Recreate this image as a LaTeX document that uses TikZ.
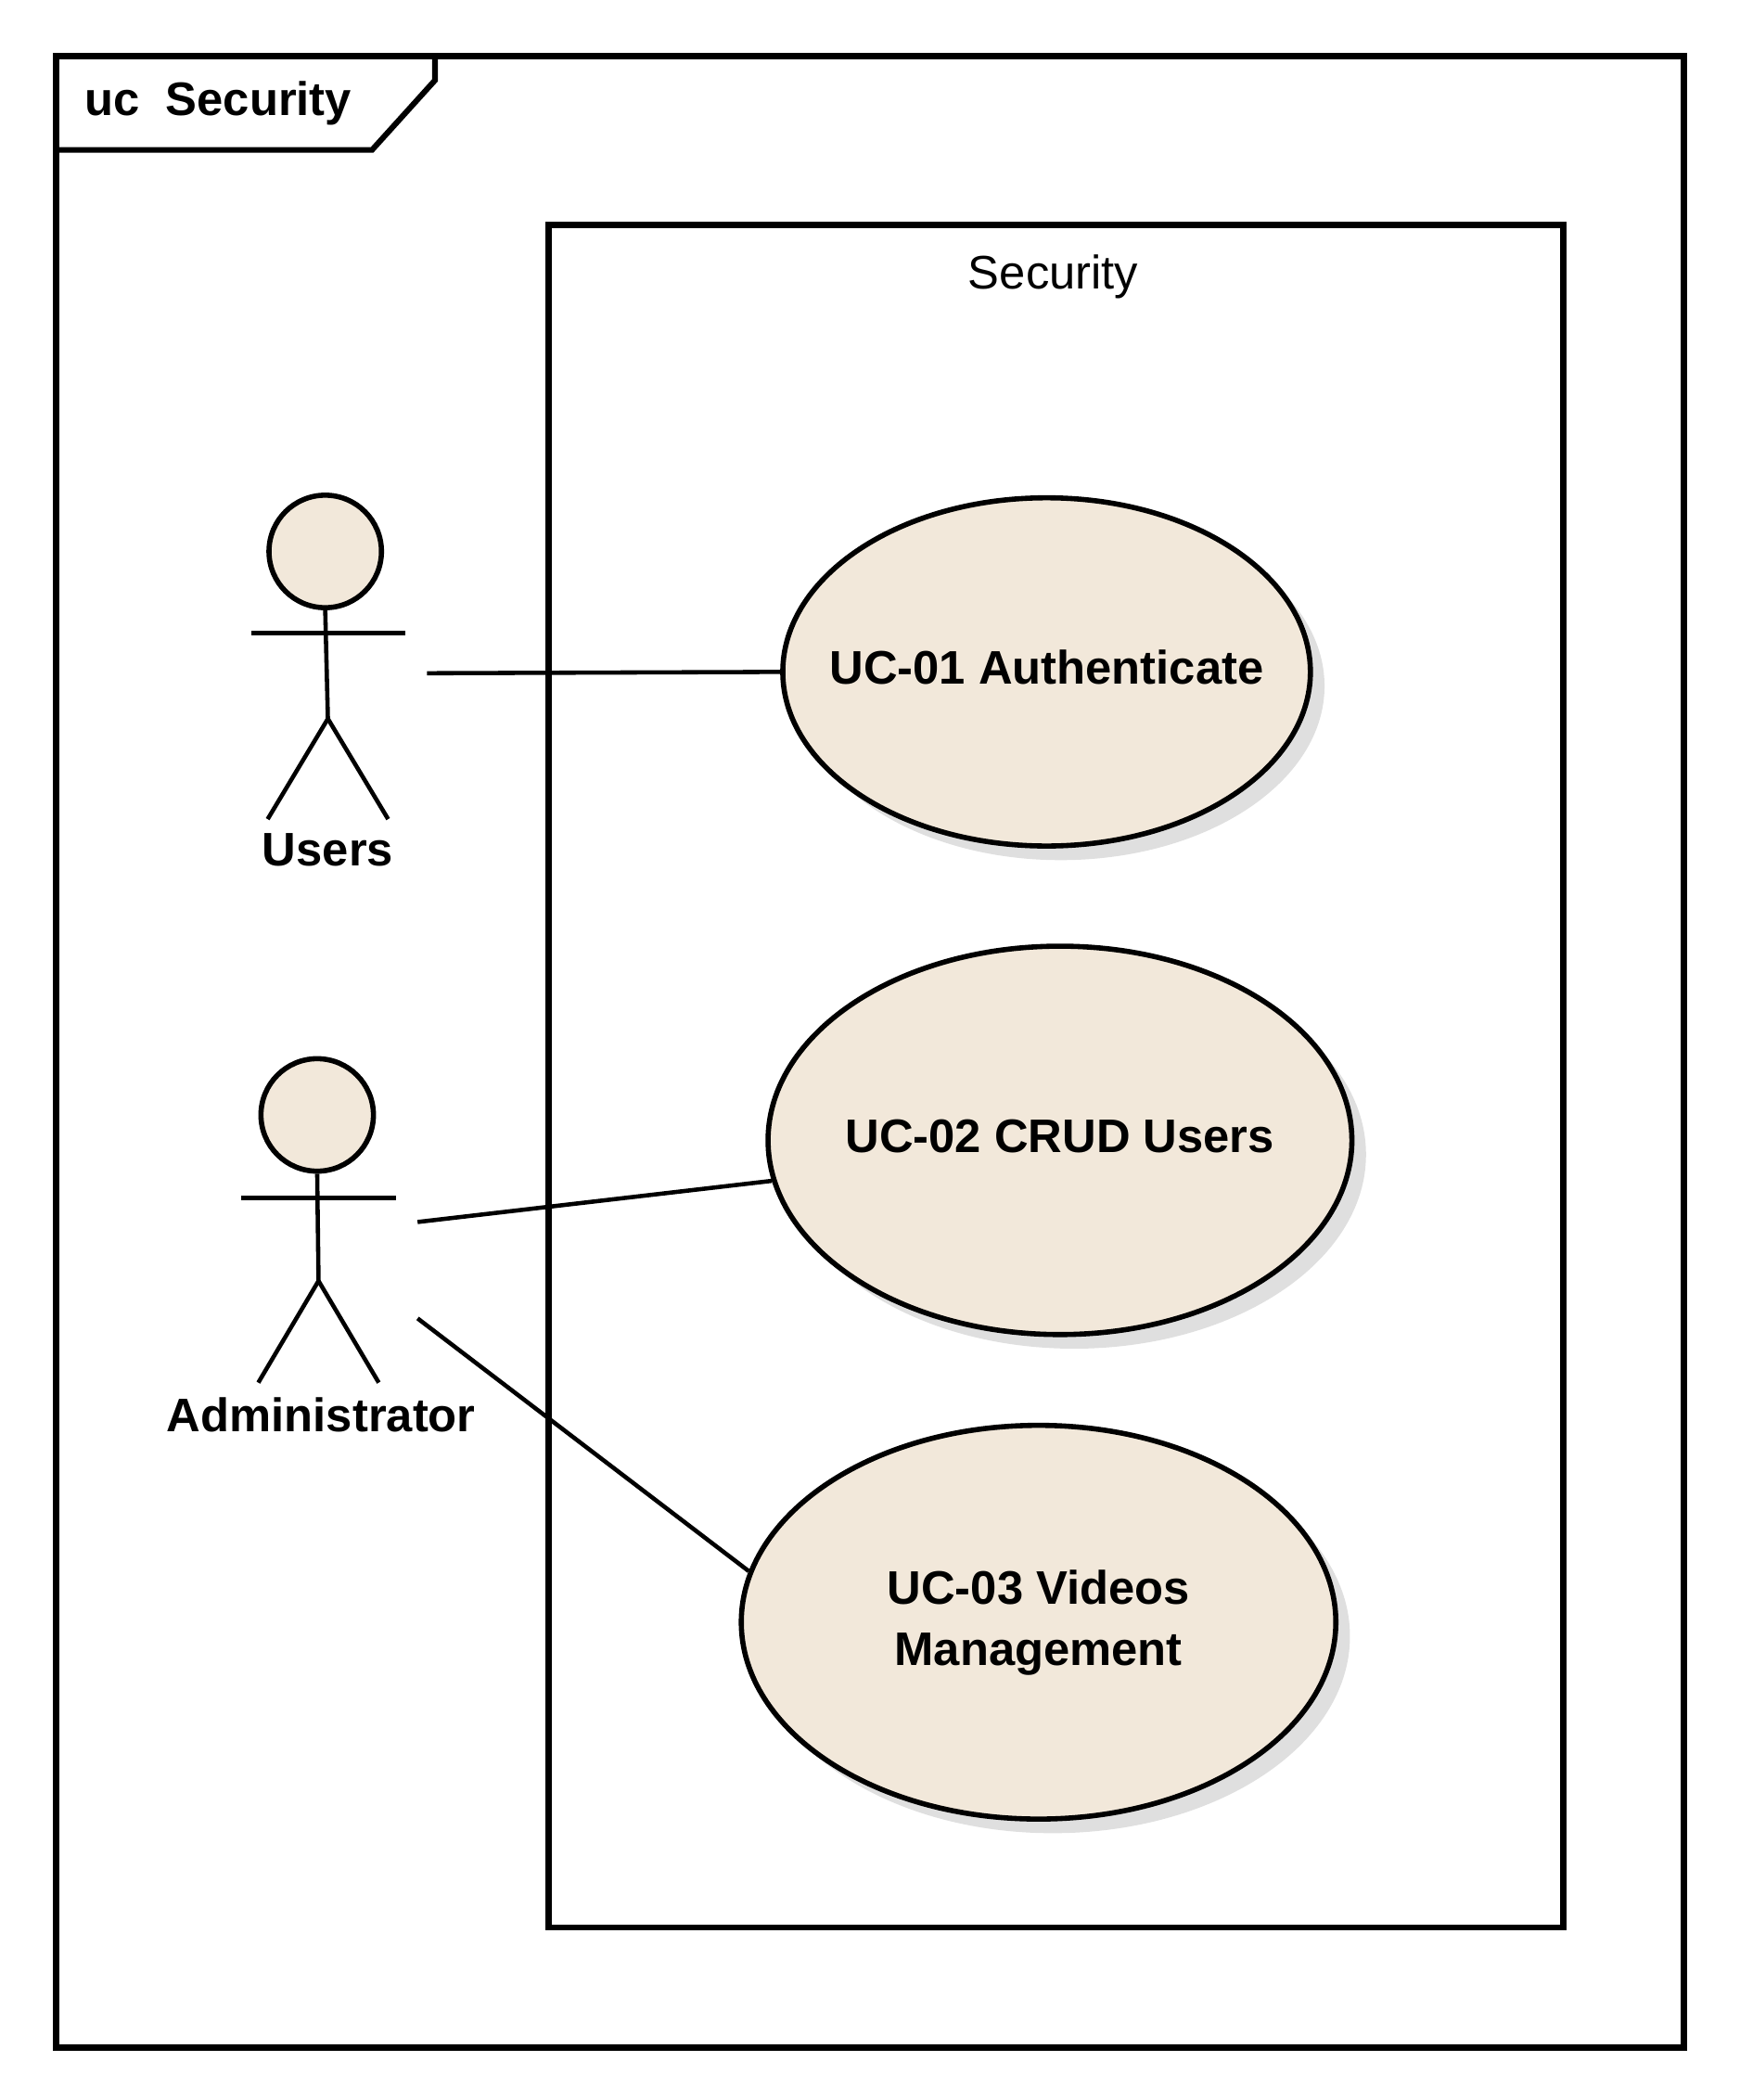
\documentclass[tikz,border=0pt]{standalone}
\usepackage{fontspec}
\setmainfont{Liberation Sans}
\usetikzlibrary{shapes.geometric,shadows}
\definecolor{ucfill}{RGB}{242,232,218}
\newcommand{\zb}[1]{\makebox[0pt]{\begin{tabular}{@{}c@{}}#1\end{tabular}}}
\begin{document}
\begin{tikzpicture}[x=0.01cm,y=-0.01cm,line width=0.9pt,
  uc/.style={ellipse,draw,fill=ucfill,line width=1.1pt,inner sep=0pt,font=\bfseries\fontsize{10}{13}\selectfont,drop shadow={shadow xshift=3pt,shadow yshift=-3pt,fill=black!25}},
  head/.style={circle,draw,fill=ucfill,minimum size=0.84cm,inner sep=0pt,line width=1.1pt},
  lbl/.style={font=\bfseries\fontsize{10}{13}\selectfont}]
\useasboundingbox (0,0) rectangle (1300,1569);
\draw[line width=1.4pt] (42,42) rectangle (1258,1530);
\draw[line width=1.2pt] (42,112) -- (278,112) -- (325,60) -- (325,42);
\node[font=\bfseries\fontsize{10}{12}\selectfont] (title) at (163,77) {uc\ \ Security};
\draw[line width=1.3pt] (410,168) rectangle (1168,1440);
\node[font=\fontsize{10}{12}\selectfont] (sys) at (787,207) {Security};
% actors
\node[head] (uh) at (243,412) {};
\draw (188,473) -- (303,473);
\draw (uh.south) -- (245,537) -- (200,612);
\draw (245,537) -- (290,612);
\node[lbl] (ul) at (245,635) {Users};
\node[head] (ah) at (237,833) {};
\draw (180,895) -- (296,895);
\draw (ah.south) -- (238,957) -- (193,1033);
\draw (238,957) -- (283,1033);
\node[lbl] (al) at (240,1057) {Administrator};
\coordinate (u1) at (319,503);
\coordinate (a1) at (312,913);
\coordinate (a2) at (312,985);
% use cases
\node[uc,minimum width=3.94cm,minimum height=2.6cm] (c1) at (782,502) {\zb{UC-01 Authenticate}};
\node[uc,minimum width=4.36cm,minimum height=2.9cm] (c2) at (792,852) {\zb{UC-02 CRUD Users}};
\node[uc,minimum width=4.44cm,minimum height=2.94cm] (c3) at (776,1212) {\zb{UC-03 Videos\\Management}};
\draw (u1) -- (c1.west);
\draw (a1) -- (c2.188);
\draw (a2) -- (c3.170);
\end{tikzpicture}
\end{document}
